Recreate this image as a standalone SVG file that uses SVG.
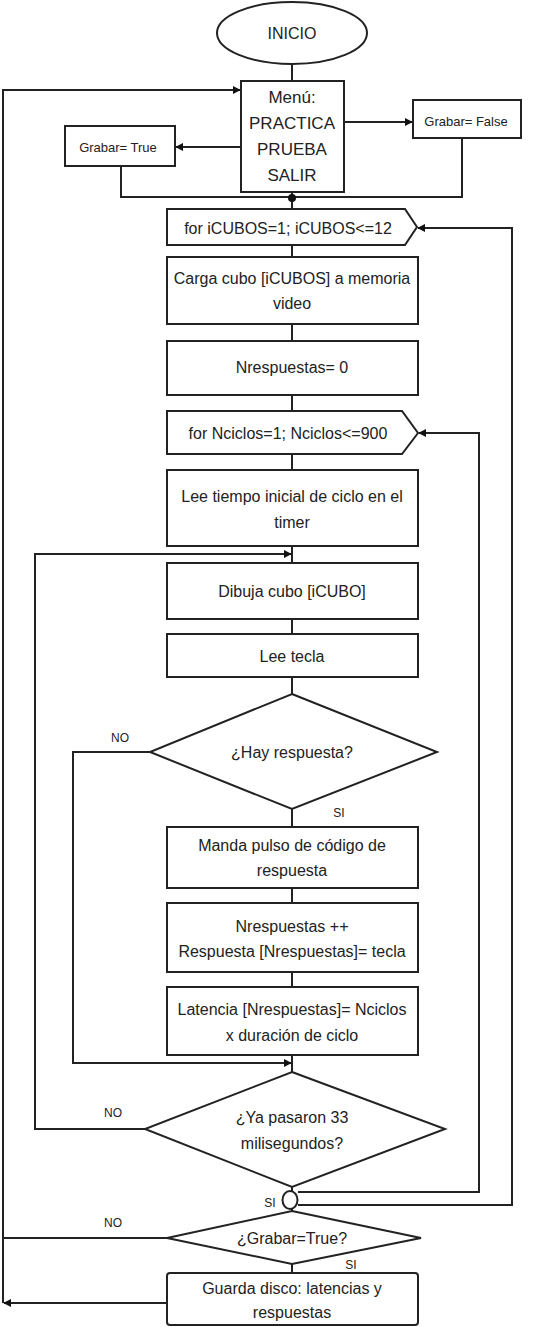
<svg xmlns="http://www.w3.org/2000/svg" width="560" height="1327" viewBox="0 0 560 1327">
<style>
.box{fill:#fff;stroke:#222;stroke-width:2}
.ln{fill:none;stroke:#222;stroke-width:2}
text{font-family:"Liberation Sans",Arial,sans-serif;font-size:16px;fill:#222;text-anchor:middle;dominant-baseline:central}
.mn{font-size:17px}
.sm{font-size:13px}
.lb{font-size:12px}
</style>
<defs>
<marker id="ar" viewBox="0 0 10 10" refX="9" refY="5" markerWidth="8" markerHeight="8" markerUnits="userSpaceOnUse" orient="auto"><path d="M0,0 L10,5 L0,10 z" fill="#111"/></marker>
</defs>
<rect width="560" height="1327" fill="#fff"/>
<g id="connectors">
<line class="ln" x1="292" y1="64" x2="292" y2="1273"/>
<polyline class="ln" points="3,1238 3,90 240,90" marker-end="url(#ar)"/>
<line class="ln" x1="241" y1="147" x2="176" y2="147" marker-end="url(#ar)"/>
<line class="ln" x1="344" y1="122" x2="412" y2="122" marker-end="url(#ar)"/>
<polyline class="ln" points="121,166 121,197 462,197 462,138"/>
<circle cx="292" cy="198" r="4" fill="#111"/>
<polyline class="ln" points="298,1205 512,1205 512,228 418,228" marker-end="url(#ar)"/>
<polyline class="ln" points="298,1192 479,1192 479,433 419,433" marker-end="url(#ar)"/>
<polyline class="ln" points="145,1129 35,1129 35,554 291,554" marker-end="url(#ar)"/>
<polyline class="ln" points="150,752 73,752 73,1063 291,1063" marker-end="url(#ar)"/>
<polyline class="ln" points="167,1238 3,1238 3,1303"/>
<line class="ln" x1="167" y1="1303" x2="4" y2="1303" marker-end="url(#ar)"/>
<text class="lb" x="120" y="738">NO</text>
<text class="lb" x="339" y="813">SI</text>
<text class="lb" x="113" y="1113">NO</text>
<text class="lb" x="270" y="1203">SI</text>
<text class="lb" x="113" y="1223">NO</text>
<text class="lb" x="351" y="1265">SI</text>
</g>
<g id="inicio"><ellipse class="box" cx="292" cy="33" rx="75" ry="31"/><text x="292" y="33">INICIO</text></g>
<g id="menu"><rect class="box" x="241" y="81" width="103" height="111"/>
<text class="mn" x="292" y="97">Menú:</text><text class="mn" x="292" y="123">PRACTICA</text><text class="mn" x="292" y="149">PRUEBA</text><text class="mn" x="292" y="175">SALIR</text></g>
<g id="grabar-true"><rect class="box" x="65" y="126" width="110" height="40"/><text class="sm" x="118" y="147">Grabar= True</text></g>
<g id="grabar-false"><rect class="box" x="413" y="100" width="108" height="38"/><text class="sm" x="466" y="121">Grabar= False</text></g>
<g id="for-cubos"><polygon class="box" points="167,209 405,209 417,227 405,245 167,245"/><text x="288" y="228">for iCUBOS=1; iCUBOS&lt;=12</text></g>
<g id="carga"><rect class="box" x="167" y="257" width="251" height="67"/><text x="292" y="278">Carga cubo [iCUBOS] a memoria</text><text x="292" y="303">video</text></g>
<g id="nresp0"><rect class="box" x="167" y="341" width="251" height="54"/><text x="292" y="367">Nrespuestas= 0</text></g>
<g id="for-ciclos"><polygon class="box" points="167,411 402,411 418,433 402,454 167,454"/><text x="288" y="433">for Nciclos=1; Nciclos&lt;=900</text></g>
<g id="lee-tiempo"><rect class="box" x="167" y="470" width="251" height="76"/><text x="292" y="496">Lee tiempo inicial de ciclo en el</text><text x="292" y="522">timer</text></g>
<g id="dibuja"><rect class="box" x="167" y="563" width="251" height="56"/><text x="292" y="591">Dibuja cubo [iCUBO]</text></g>
<g id="lee-tecla"><rect class="box" x="167" y="634" width="251" height="43"/><text x="292" y="656">Lee tecla</text></g>
<g id="hay-respuesta"><polygon class="box" points="292,694 437,752 292,809 150,752"/><text x="292" y="752">¿Hay respuesta?</text></g>
<g id="manda"><rect class="box" x="167" y="827" width="251" height="61"/><text x="292" y="845">Manda pulso de código de</text><text x="292" y="870">respuesta</text></g>
<g id="nresp-inc"><rect class="box" x="167" y="903" width="251" height="69"/><text x="292" y="926">Nrespuestas ++</text><text x="292" y="951">Respuesta [Nrespuestas]= tecla</text></g>
<g id="latencia"><rect class="box" x="167" y="987" width="251" height="68"/><text x="292" y="1009">Latencia [Nrespuestas]= Nciclos</text><text x="292" y="1035">x duración de ciclo</text></g>
<g id="ya-pasaron"><polygon class="box" points="292,1072 445,1129 292,1187 145,1129"/><text x="292" y="1117">¿Ya pasaron 33</text><text x="292" y="1143">milisegundos?</text></g>
<g id="junction"><ellipse class="box" cx="290" cy="1200" rx="7.5" ry="9"/></g>
<g id="grabar-q"><polygon class="box" points="292,1211 421,1238 292,1264 167,1238"/><text x="292" y="1238">¿Grabar=True?</text></g>
<g id="guarda"><rect class="box" x="167" y="1273" width="251" height="52" rx="3"/><text x="292" y="1288">Guarda disco: latencias y</text><text x="292" y="1312">respuestas</text></g>
</svg>
